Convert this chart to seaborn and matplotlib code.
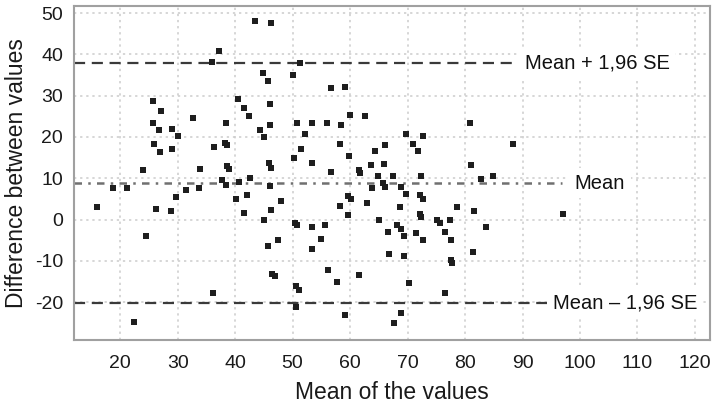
import pandas as pd
import matplotlib.pyplot as plt
import seaborn as sns

# Bland-Altman data: mean of the two values (x) and their difference (y)
mean_vals = [
    43.5, 46.2, 37.2, 36.0, 44.9, 45.8, 25.7, 27.1, 40.5, 41.5,
    42.5, 46.0, 32.7, 38.4, 25.8, 26.8, 29.0, 30.0, 46.1, 44.4,
    45.0, 25.9, 26.9, 29.0, 36.3, 38.2, 38.6, 24.0, 33.9, 38.6,
    39.0, 45.9, 46.3, 37.8, 38.4, 40.6, 42.6, 46.0, 18.7, 21.2,
    29.8, 31.4, 33.7, 40.1, 42.1, 51.3, 50.0, 56.7, 59.1, 59.9,
    62.6, 50.7, 53.3, 55.9, 58.5, 80.9, 52.2, 69.7, 72.6, 51.5,
    58.3, 59.8, 66.1, 64.3, 70.9, 71.8, 50.2, 53.3, 56.7, 61.6,
    61.8, 63.6, 65.9, 64.8, 67.4, 72.4, 81.0, 63.9, 65.8, 66.1,
    68.8, 69.7, 72.2, 72.6, 59.7, 60.1, 47.9, 82.7, 84.8, 88.4,
    15.9, 26.2, 28.9, 24.5, 36.2, 22.4, 41.6, 45.0, 46.3, 45.8,
    47.4, 46.5, 46.9, 50.5, 50.8, 53.3, 55.7, 54.9, 53.4, 50.6,
    51.1, 50.6, 56.2, 57.7, 58.3, 59.6, 59.1, 61.6, 63.0, 65.0,
    66.6, 66.7, 68.6, 68.1, 68.8, 69.4, 69.3, 70.2, 68.8, 67.7,
    72.1, 72.3, 71.5, 72.6, 75.1, 75.7, 76.6, 77.4, 77.6, 78.6,
    77.5, 77.8, 76.5, 81.6, 81.4, 83.6, 97.0,
]
diff_vals = [
    48.1, 47.7, 40.9, 38.1, 35.4, 33.6, 28.8, 26.2, 29.3, 27.0,
    25.1, 28.1, 24.7, 23.3, 23.5, 21.6, 21.9, 20.2, 22.8, 21.6,
    20.0, 18.4, 16.3, 17.2, 17.6, 18.6, 18.0, 12.0, 12.2, 13.0,
    12.2, 13.6, 12.6, 9.6, 8.4, 9.2, 10.0, 8.2, 7.6, 7.7,
    5.5, 7.2, 7.6, 4.9, 5.9, 37.9, 35.1, 31.8, 32.2, 25.3,
    25.1, 23.5, 23.4, 23.3, 23.0, 23.4, 20.7, 20.7, 20.3, 17.1,
    18.4, 15.5, 18.1, 16.6, 18.4, 16.7, 14.8, 13.6, 11.6, 11.9,
    11.4, 13.1, 13.5, 10.6, 10.5, 10.5, 13.2, 7.6, 8.8, 8.0,
    8.0, 6.1, 6.0, 5.0, 5.7, 5.0, 4.5, 9.8, 10.6, 18.3,
    3.1, 2.5, 2.1, -3.9, -17.7, -24.9, 1.7, 0.0, 2.4, -6.5,
    -5.0, -13.1, -13.7, -0.8, -1.4, -1.7, -1.3, -4.8, -7.1, -16.1,
    -17.1, -21.2, -12.1, -15.2, 3.4, 1.2, -23.2, -13.3, 3.9, 0.0,
    -3.0, -8.3, 3.1, -1.2, -2.2, -4.0, -8.8, -15.3, -22.6, -25.1,
    1.3, 0.7, -3.2, -5.0, 0.0, -0.8, -2.9, 0.0, -5.0, 3.1,
    -9.8, -10.5, -17.8, 2.0, -7.8, -1.7, 1.3,
]

# limits of agreement
mean_diff = 8.8
upper_loa = 37.8
lower_loa = -20.2

df = pd.DataFrame({"mean": mean_vals, "diff": diff_vals})

sns.set_style("white")
plt.rcParams['font.family'] = ['Liberation Sans', 'DejaVu Sans']
plt.rcParams['axes.unicode_minus'] = False

fig = plt.figure(figsize=(7.2, 4.05), dpi=100)
ax = fig.add_axes([0.103, 0.16, 0.883, 0.825])

ax.grid(True, color='#cccccc', linestyle=(0, (1.5, 2.5)), linewidth=1.1)
ax.set_axisbelow(True)

sns.scatterplot(data=df, x="mean", y="diff", marker='s', s=22,
                color='#1e1e1e', linewidth=0, ax=ax, zorder=3)

x0 = 12
ax.hlines(upper_loa, x0, 89.0, colors='#3a3a3a', linestyles=(0, (5, 3)), linewidth=1.6, zorder=2)
ax.hlines(mean_diff, x0, 96.8, colors='#707070', linestyles=(0, (3, 2.5, 1, 2.5)), linewidth=1.8, zorder=2)
ax.hlines(lower_loa, x0, 94.3, colors='#3a3a3a', linestyles=(0, (5, 3)), linewidth=1.6, zorder=2)

box = dict(facecolor='white', edgecolor='none', pad=4)
ax.text(90.4, upper_loa, "Mean + 1,96 SE", fontsize=14.5, va='center', ha='left',
        color='#111111', bbox=box, zorder=4)
ax.text(99.1, mean_diff, "Mean", fontsize=14.5, va='center', ha='left',
        color='#111111', bbox=box, zorder=4)
ax.text(95.3, lower_loa, "Mean \u2013 1,96 SE", fontsize=14.5, va='center', ha='left',
        color='#111111', bbox=box, zorder=4)

ax.set_xlim(12, 122.6)
ax.set_ylim(-29.2, 51.7)
ax.set_xticks(range(20, 121, 10))
ax.set_yticks(range(-20, 51, 10))

for s in ax.spines.values():
    s.set_color('#a0a0a0')
    s.set_linewidth(1.5)

ax.tick_params(axis='both', direction='out', length=4, width=1, color='#b0b0b0',
               labelsize=14, labelcolor='#1a1a1a')
ax.tick_params(axis='x', pad=7)
ax.tick_params(axis='y', pad=4)

ax.set_xlabel("Mean of the values", fontsize=16.5, color='#1a1a1a', labelpad=6)
ax.set_ylabel("Difference between values", fontsize=16.5, color='#1a1a1a', labelpad=5)

plt.savefig("out.png", dpi=100)
